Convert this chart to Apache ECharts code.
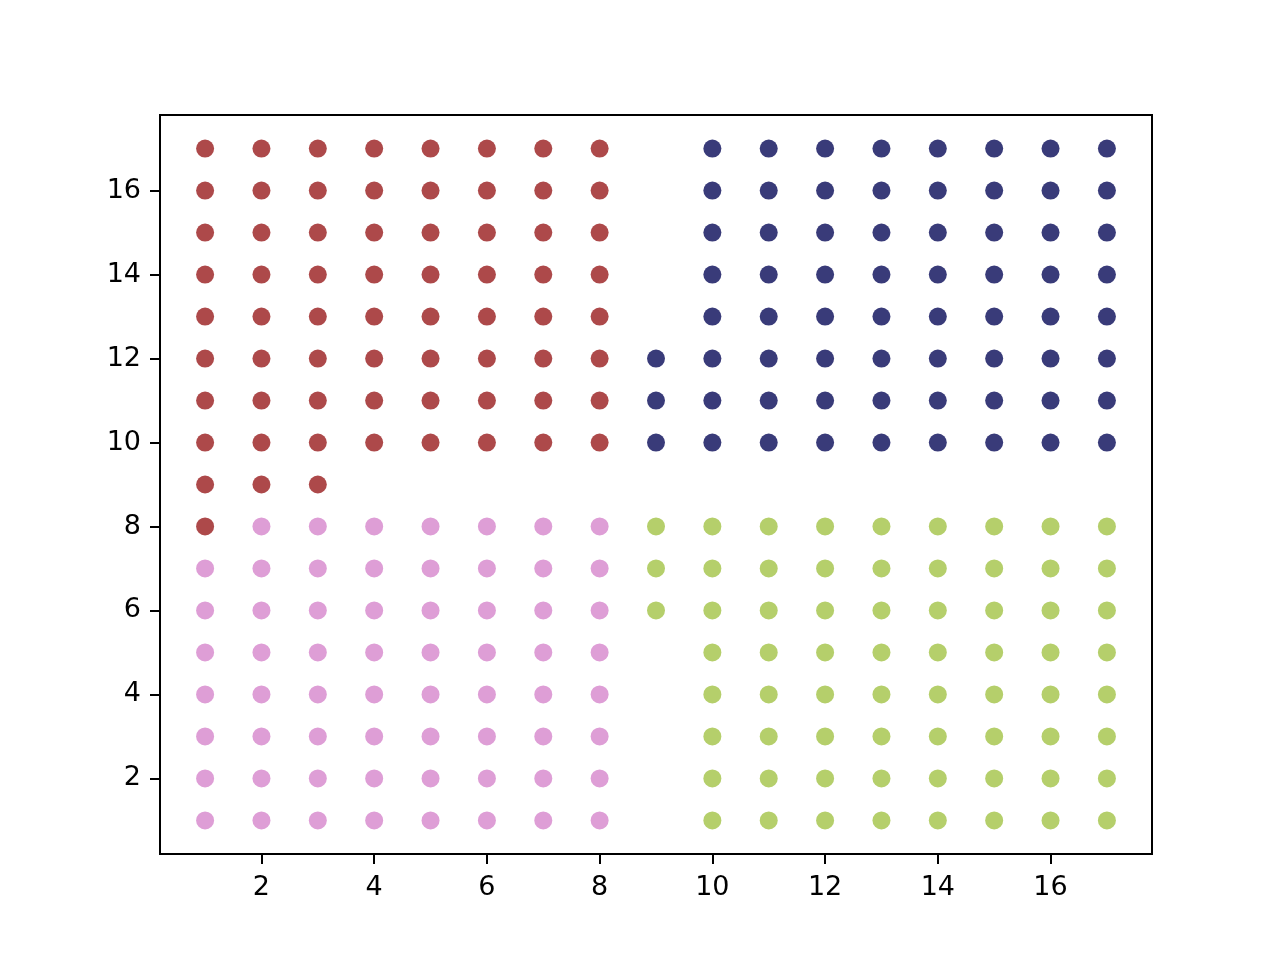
<!DOCTYPE html>
<html>
<head>
<meta charset="utf-8">
<script src="https://cdn.jsdelivr.net/npm/echarts@6/dist/echarts.min.js"></script>
<style>html,body{margin:0;padding:0;background:#fff}#chart{width:1280px;height:960px}</style>
</head>
<body>
<div id="chart"></div>
<script>
// Tick labels
const xTicks = [2, 4, 6, 8, 10, 12, 14, 16];
const yTicks = [2, 4, 6, 8, 10, 12, 14, 16];

// Cluster points: column x values and the y values present in each column
const redCols = [1, 2, 3, 4, 5, 6, 7, 8];
const redRows = [
  [8, 9, 10, 11, 12, 13, 14, 15, 16, 17],
  [9, 10, 11, 12, 13, 14, 15, 16, 17],
  [9, 10, 11, 12, 13, 14, 15, 16, 17],
  [10, 11, 12, 13, 14, 15, 16, 17],
  [10, 11, 12, 13, 14, 15, 16, 17],
  [10, 11, 12, 13, 14, 15, 16, 17],
  [10, 11, 12, 13, 14, 15, 16, 17],
  [10, 11, 12, 13, 14, 15, 16, 17]
];
const blueCols = [9, 10, 11, 12, 13, 14, 15, 16, 17];
const blueRows = [
  [10, 11, 12],
  [10, 11, 12, 13, 14, 15, 16, 17],
  [10, 11, 12, 13, 14, 15, 16, 17],
  [10, 11, 12, 13, 14, 15, 16, 17],
  [10, 11, 12, 13, 14, 15, 16, 17],
  [10, 11, 12, 13, 14, 15, 16, 17],
  [10, 11, 12, 13, 14, 15, 16, 17],
  [10, 11, 12, 13, 14, 15, 16, 17],
  [10, 11, 12, 13, 14, 15, 16, 17]
];
const pinkCols = [1, 2, 3, 4, 5, 6, 7, 8];
const pinkRows = [
  [1, 2, 3, 4, 5, 6, 7],
  [1, 2, 3, 4, 5, 6, 7, 8],
  [1, 2, 3, 4, 5, 6, 7, 8],
  [1, 2, 3, 4, 5, 6, 7, 8],
  [1, 2, 3, 4, 5, 6, 7, 8],
  [1, 2, 3, 4, 5, 6, 7, 8],
  [1, 2, 3, 4, 5, 6, 7, 8],
  [1, 2, 3, 4, 5, 6, 7, 8]
];
const greenCols = [9, 10, 11, 12, 13, 14, 15, 16, 17];
const greenRows = [
  [6, 7, 8],
  [1, 2, 3, 4, 5, 6, 7, 8],
  [1, 2, 3, 4, 5, 6, 7, 8],
  [1, 2, 3, 4, 5, 6, 7, 8],
  [1, 2, 3, 4, 5, 6, 7, 8],
  [1, 2, 3, 4, 5, 6, 7, 8],
  [1, 2, 3, 4, 5, 6, 7, 8],
  [1, 2, 3, 4, 5, 6, 7, 8],
  [1, 2, 3, 4, 5, 6, 7, 8]
];

function toPoints(cols, rows) {
  const pts = [];
  cols.forEach((x, i) => rows[i].forEach(y => pts.push([x, y])));
  return pts;
}

const chart = echarts.init(document.getElementById('chart'), null, {renderer: 'canvas'});
const font = 'DejaVu Sans';
const axisLine = {show: true, onZero: false, lineStyle: {color: '#000', width: 2}};
const tickStyle = {show: true, inside: false, length: 10, lineStyle: {color: '#000', width: 2}};
const mkSeries = (pts, color) => ({
  type: 'scatter', data: pts, symbol: 'circle', symbolSize: 18,
  itemStyle: {color: color, opacity: 1}, silent: true, animation: false
});
chart.setOption({
  animation: false,
  backgroundColor: '#fff',
  grid: {left: 160, top: 115, right: 128, bottom: 106, show: true, borderColor: '#000', borderWidth: 2, backgroundColor: 'transparent'},
  xAxis: {
    type: 'value', min: 0.2, max: 17.8,
    axisLine: axisLine, splitLine: {show: false},
    axisTick: Object.assign({}, tickStyle, {customValues: xTicks}),
    axisLabel: {customValues: xTicks, color: '#000', fontFamily: font, fontSize: 27, margin: 20}
  },
  yAxis: {
    type: 'value', min: 0.2, max: 17.8,
    axisLine: axisLine, splitLine: {show: false},
    axisTick: Object.assign({}, tickStyle, {customValues: yTicks}),
    axisLabel: {customValues: yTicks, color: '#000', fontFamily: font, fontSize: 27, margin: 19}
  },
  series: [
    mkSeries(toPoints(pinkCols, pinkRows), '#de9ed6'),
    mkSeries(toPoints(greenCols, greenRows), '#b5cf6b'),
    mkSeries(toPoints(redCols, redRows), '#ad494a'),
    mkSeries(toPoints(blueCols, blueRows), '#393b79')
  ]
});
</script>
</body>
</html>
